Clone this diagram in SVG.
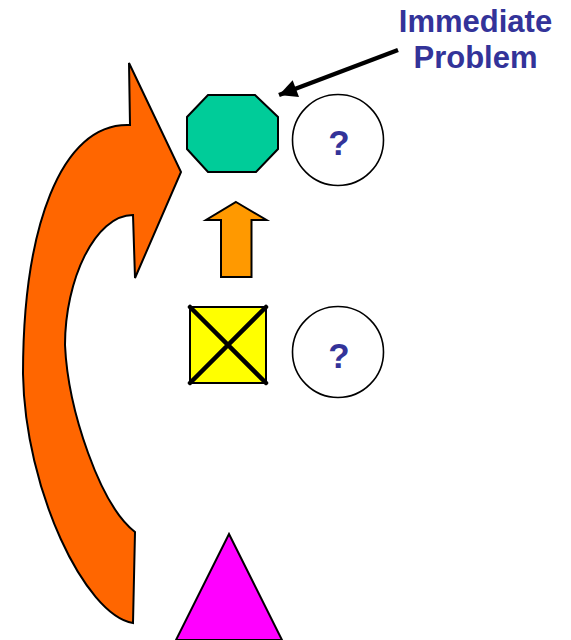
<svg xmlns="http://www.w3.org/2000/svg" width="571" height="640" viewBox="0 0 571 640">
<style>
.shape{stroke:#000;stroke-width:2;stroke-linejoin:miter}
.ring{fill:#fff;stroke:#000;stroke-width:1.6}
.t{font-family:"Liberation Sans",Arial,sans-serif;font-weight:bold;fill:#333399;text-anchor:middle}
.lab{font-size:31px}
.q{font-size:35px}
</style>
<defs>
<marker id="ah" viewBox="0 0 10 10" refX="10" refY="5" markerWidth="5" markerHeight="4" markerUnits="strokeWidth" orient="auto">
<path d="M0,0 L10,5 L0,10 Z" fill="#000"/>
</marker>
</defs>
<rect width="571" height="640" fill="#fff"/>
<g id="curved-arrow">
<path class="shape" fill="#FF6600" d="M130,125 L129,63 L181,172 L135,278 L133,215 C95,215 65,280 65,345 C68,410 100,505 135,532 L133,623 C85,615 25,490 23,374 C23,230 60,122 130,125 Z"/>
</g>
<g id="octagon">
<polygon class="shape" fill="#00CC99" points="208,95 255,95 278,117 278,149 256,172 208,172 187,149 187,117"/>
</g>
<g id="circle-top">
<circle class="ring" cx="338" cy="140" r="45.5"/>
<text class="t q" x="339" y="155">?</text>
</g>
<g id="up-arrow">
<polygon class="shape" fill="#FF9900" points="236,202 266.5,220 251.5,220 251.5,277 221,277 221,220 206,220"/>
</g>
<g id="square">
<rect class="shape" fill="#FFFF00" x="190" y="307" width="76" height="76"/>
<path d="M190,307 L266,383 M266,307 L190,383" stroke="#000" stroke-width="4.5" stroke-linecap="round"/>
</g>
<g id="circle-mid">
<circle class="ring" cx="338" cy="352" r="45.5"/>
<text class="t q" x="339" y="368">?</text>
</g>
<g id="triangle">
<polygon class="shape" fill="#FF00FF" points="229,534 282,640 176,640"/>
</g>
<g id="label">
<text class="t lab" x="475.5" y="31.5">Immediate</text>
<text class="t lab" x="475.5" y="68">Problem</text>
</g>
<g id="connectors">
<line x1="398" y1="50" x2="279" y2="95" stroke="#000" stroke-width="4.5" marker-end="url(#ah)"/>
</g>
</svg>
